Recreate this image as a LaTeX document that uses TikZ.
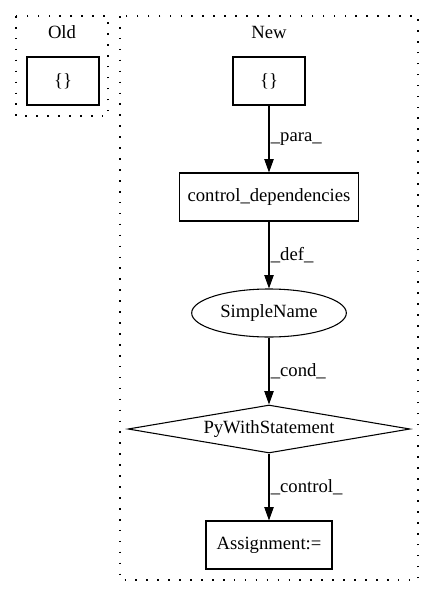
\documentclass[tikz,border=0pt]{standalone}
\usepackage{fontspec}
\setmainfont{Liberation Serif}
\usetikzlibrary{arrows.meta,positioning,shapes.geometric}

\begin{document}
\begin{tikzpicture}[x=0.75pt,y=-0.75pt,->,>={Triangle[length=10pt,width=7pt]},auto,node distance=87pt,thick,font=\fontsize{14}{16}\selectfont,
    box node/.style={rectangle,draw,minimum width=54pt,minimum height=36pt,inner sep=4pt},
    name node/.style={ellipse,draw,minimum width=116pt,minimum height=36pt,inner sep=0pt},
    stmt node/.style={diamond,draw,aspect=5.875,minimum width=211.5pt,minimum height=36pt,inner sep=0pt},
    edge label/.style={inner sep=1pt},
    cluster/.style={draw,-,line width=1pt,dash pattern=on 1.2pt off 7pt}]
    \useasboundingbox (0,0) rectangle (435,596);
    % clusters
    \draw[cluster] (16,16) rectangle (108,116);
    \draw[cluster] (120,16) rectangle (418,580);
    \node (old) at (62,32) {Old};
    \node (new) at (269,32) {New};
    % old
    \node[box node] (0) at (63,81) {\{\}};
    % new
    \node[box node] (1) at (269,81) {\{\}};
    \node[box node,minimum width=134pt] (2) [below of=1] {control\_dependencies};
    \node[name node] (3) [below of=2] {SimpleName};
    \node[stmt node] (4) [below of=3] {PyWithStatement};
    \node[box node,minimum width=94.5pt] (5) [below of=4] {Assignment:=};
    \draw (1) -- node[edge label] {\_para\_} (2);
    \draw (2) -- node[edge label] {\_def\_} (3);
    \draw (3) -- node[edge label] {\_cond\_} (4);
    \draw (4) -- node[edge label] {\_control\_} (5);
  \end{tikzpicture}
\end{document}
